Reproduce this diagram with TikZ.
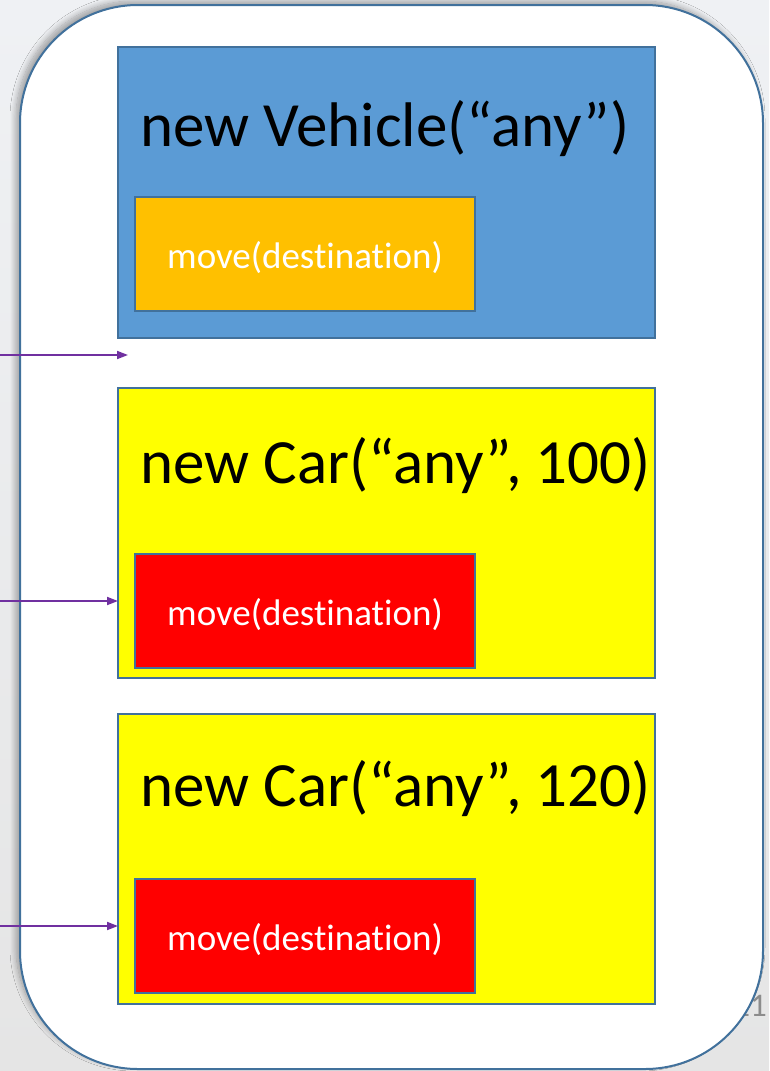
\documentclass[tikz,border=0pt]{standalone}
\usepackage{fontspec}
\setmainfont[Ligatures={NoCommon}]{Carlito}
\usetikzlibrary{shadows.blur,arrows.meta}
\definecolor{bgtop}{RGB}{239,241,244}
\definecolor{bgbot}{RGB}{229,229,229}
\definecolor{edge}{RGB}{65,113,156}
\definecolor{vblue}{RGB}{91,155,213}
\definecolor{vorange}{RGB}{255,192,0}
\definecolor{vyellow}{RGB}{255,255,0}
\definecolor{vred}{RGB}{255,0,0}
\definecolor{vpurple}{RGB}{112,48,160}
\definecolor{pnum}{RGB}{140,140,140}
\tikzset{
  box/.style={draw=edge, line width=1.6pt, inner sep=0pt, outer sep=0pt, anchor=north west},
  outerbox/.style={box, minimum width=537pt},
  methodbox/.style={box, minimum width=340pt, minimum height=114pt, text=white, text height=30pt, text depth=2pt, font=\fontsize{37}{40}\selectfont},
  title/.style={anchor=base west, inner sep=0pt, font=\fontsize{63}{66}\selectfont},
  ref/.style={draw=vpurple, line width=1.8pt, -{Triangle[length=11pt,width=8pt]}}
}
\begin{document}
\begin{tikzpicture}[x=1pt,y=-1pt]
\useasboundingbox (0,0) rectangle (769,1071);
\shade[top color=bgtop, bottom color=bgbot] (0,0) rectangle (769,1071);
% page number (partly hidden behind the frame)
\node[anchor=base east, inner sep=0pt, text=pnum, font=\fontsize{33}{33}\selectfont] (pg) at (767,1016) {11};
% frame
\node[draw=edge, line width=2pt, fill=white, rounded corners=118pt, minimum width=743pt, minimum height=1064pt, anchor=north west, inner sep=0pt, outer sep=0pt,
      blur shadow={shadow xshift=-4pt, shadow yshift=4pt, shadow blur steps=12, shadow blur radius=6pt, shadow opacity=35}] (frame) at (20,5) {};
% Vehicle object
\node[outerbox, fill=vblue, minimum height=291pt] (veh) at (118,47) {};
\node[title] (vehT) at (140,146) {new Vehicle(“any”)};
\node[methodbox, fill=vorange] (vehM) at (135,197) {move(destination)};
% Car 100
\node[outerbox, fill=vyellow, minimum height=290pt] (car1) at (118,388) {};
\node[title] (car1T) at (140,483) {new Car(“any”, 100)};
\node[methodbox, fill=vred] (car1M) at (135,554) {move(destination)};
% Car 120
\node[outerbox, fill=vyellow, minimum height=290pt] (car2) at (118,714) {};
\node[title] (car2T) at (140,806) {new Car(“any”, 120)};
\node[methodbox, fill=vred] (car2M) at (135,879) {move(destination)};
% references
\coordinate (r1) at (0,355);
\coordinate (r1e) at (128,355);
\coordinate (r2) at (0,601);
\coordinate (r3) at (0,926);
\draw[ref] (r1) -- (r1e);
\draw[ref] (r2) -- (r2 -| car1.west);
\draw[ref] (r3) -- (r3 -| car2.west);
\end{tikzpicture}
\end{document}
